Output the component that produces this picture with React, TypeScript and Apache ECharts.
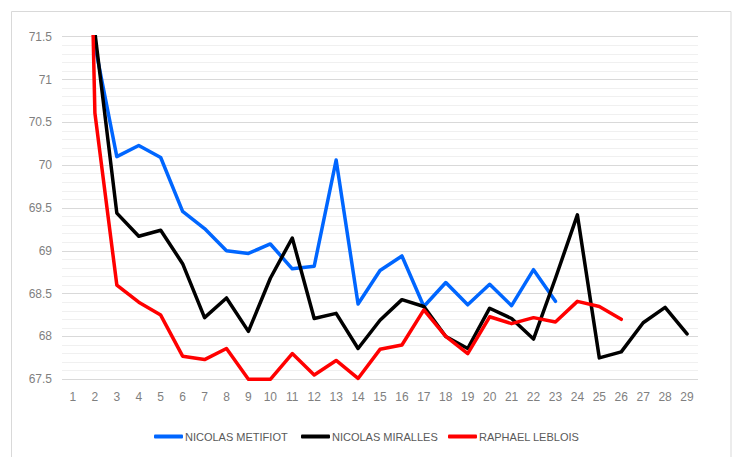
import React, { useEffect, useRef } from "react";
import * as echarts from "echarts";

const laps = ["1","2","3","4","5","6","7","8","9","10","11","12","13","14","15","16","17","18","19","20","21","22","23","24","25","26","27","28","29"];
const seriesNames = ["NICOLAS METIFIOT", "NICOLAS MIRALLES", "RAPHAEL LEBLOIS"];
const metifiot = [80, 71.4, 70.1, 70.23, 70.09, 69.46, 69.26, 69.0, 68.97, 69.08, 68.79, 68.82, 70.06, 68.38, 68.77, 68.94, 68.35, 68.63, 68.37, 68.61, 68.36, 68.78, 68.41];
const miralles = [80, 71.55, 69.44, 69.17, 69.24, 68.85, 68.22, 68.45, 68.06, 68.68, 69.15, 68.21, 68.27, 67.86, 68.19, 68.43, 68.35, 68.0, 67.86, 68.33, 68.21, 67.97, 68.68, 69.42, 67.75, 67.82, 68.16, 68.34, 68.03];
const leblois = [82, 70.61, 68.6, 68.4, 68.25, 67.77, 67.73, 67.86, 67.5, 67.5, 67.8, 67.55, 67.72, 67.51, 67.85, 67.9, 68.31, 68.0, 67.8, 68.23, 68.15, 68.22, 68.17, 68.41, 68.35, 68.2];
const colors = ["#0066ff", "#000000", "#ff0000"];
const legendLefts = [149, 296, 443];

export default function App() {
  const ref = useRef<HTMLDivElement>(null);
  useEffect(() => {
    if (!ref.current) return;
    const chart = echarts.init(ref.current, undefined, { renderer: "svg" });
    const data = [metifiot, miralles, leblois];
    chart.setOption({
      animation: false,
      backgroundColor: "#ffffff",
      graphic: [
        {
          type: "rect",
          shape: { x: 11.5, y: 11.5, width: 719.5, height: 470 },
          style: { fill: "none", stroke: "#d9d9d9", lineWidth: 1 },
          silent: true,
        },
      ],
      grid: { left: 62, right: 36, top: 36.7, bottom: 77.7, containLabel: false },
      legend: seriesNames.map((name, i) => ({
        left: legendLefts[i],
        top: 426,
        itemWidth: 29,
        itemHeight: 4,
        icon: "roundRect",
        textStyle: {
          fontFamily: "'Liberation Sans', Arial, sans-serif",
          fontSize: 11,
          color: "#595959",
          padding: [0, 0, 0, -3],
        },
        data: [name],
      })),
      xAxis: {
        type: "category",
        data: laps,
        boundaryGap: true,
        axisLine: { show: false },
        axisTick: { show: false },
        axisLabel: {
          margin: 12,
          fontFamily: "'Liberation Sans', sans-serif",
          fontSize: 12,
          color: "#7f7f7f",
        },
        splitLine: { show: false },
      },
      yAxis: {
        type: "value",
        min: 67.5,
        max: 71.5,
        interval: 0.5,
        axisLine: { show: false },
        axisTick: { show: false },
        axisLabel: {
          margin: 10,
          fontFamily: "'Liberation Sans', sans-serif",
          fontSize: 12,
          color: "#7f7f7f",
        },
        splitLine: { show: true, lineStyle: { color: "#d9d9d9", width: 1 } },
        minorTick: { show: false, splitNumber: 5 },
        minorSplitLine: { show: true, lineStyle: { color: "#f0f0f0", width: 1 } },
      },
      series: seriesNames.map((name, i) => ({
        name,
        type: "line",
        data: data[i],
        symbol: "none",
        clip: true,
        color: colors[i],
        lineStyle: { color: colors[i], width: 3.5, cap: "round", join: "round" },
        itemStyle: { color: colors[i] },
      })),
    });
    return () => chart.dispose();
  }, []);
  return (
    <div
      ref={ref}
      style={{ position: "fixed", left: 0, top: 0, width: 734, height: 457 }}
    />
  );
}
